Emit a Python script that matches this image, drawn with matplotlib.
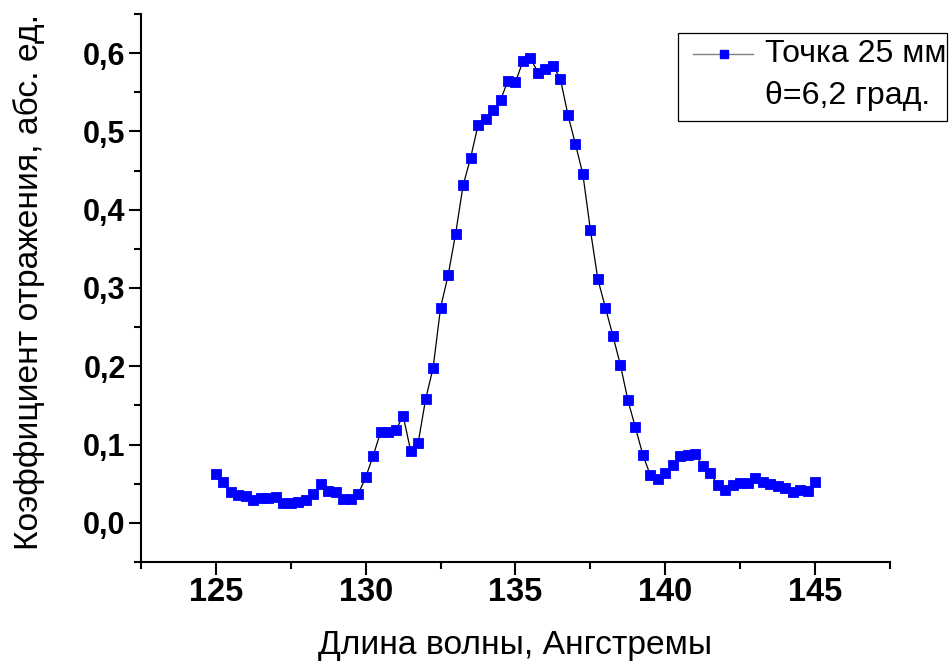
import matplotlib
matplotlib.use("Agg")
import matplotlib.pyplot as plt
from matplotlib.lines import Line2D
from matplotlib.patches import Rectangle
from matplotlib.ticker import MultipleLocator, FuncFormatter

# Wavelength grid, Angstrom
wavelength = [
    125.00, 125.25, 125.50, 125.75, 126.00, 126.25, 126.50, 126.75,
    127.00, 127.25, 127.50, 127.75, 128.00, 128.25, 128.50, 128.75,
    129.00, 129.25, 129.50, 129.75, 130.00, 130.25, 130.50, 130.75,
    131.00, 131.25, 131.50, 131.75, 132.00, 132.25, 132.50, 132.75,
    133.00, 133.25, 133.50, 133.75, 134.00, 134.25, 134.50, 134.75,
    135.00, 135.25, 135.50, 135.75, 136.00, 136.25, 136.50, 136.75,
    137.00, 137.25, 137.50, 137.75, 138.00, 138.25, 138.50, 138.75,
    139.00, 139.25, 139.50, 139.75, 140.00, 140.25, 140.50, 140.75,
    141.00, 141.25, 141.50, 141.75, 142.00, 142.25, 142.50, 142.75,
    143.00, 143.25, 143.50, 143.75, 144.00, 144.25, 144.50, 144.75,
    145.00,
]

# Reflection coefficient, absolute units
reflectance = [
    0.062, 0.052, 0.040, 0.035, 0.034, 0.029, 0.032, 0.032,
    0.033, 0.026, 0.026, 0.027, 0.029, 0.037, 0.049, 0.041,
    0.039, 0.031, 0.030, 0.037, 0.058, 0.086, 0.116, 0.116,
    0.118, 0.137, 0.092, 0.102, 0.158, 0.198, 0.275, 0.316,
    0.369, 0.431, 0.466, 0.508, 0.516, 0.528, 0.540, 0.565,
    0.563, 0.590, 0.594, 0.575, 0.580, 0.584, 0.567, 0.521,
    0.484, 0.445, 0.374, 0.311, 0.275, 0.239, 0.202, 0.157,
    0.122, 0.087, 0.061, 0.056, 0.064, 0.074, 0.086, 0.087,
    0.088, 0.072, 0.064, 0.048, 0.042, 0.048, 0.051, 0.051,
    0.057, 0.052, 0.050, 0.047, 0.045, 0.040, 0.042, 0.041,
    0.052,
]

series_label = "Точка 25 мм"
angle_label = "θ=6,2 град."
x_title = "Длина волны, Ангстремы"
y_title = "Коэффициент отражения, абс. ед."

FONT = ["Liberation Sans", "DejaVu Sans"]
plt.rcParams["font.family"] = FONT

W, H = 949, 663
fig = plt.figure(figsize=(W / 100, H / 100), dpi=100)


def fx(px):
    return px / W


def fy(py):
    return 1 - py / H


ax = fig.add_axes([fx(141), fy(562), fx(890) - fx(141), fy(14) - fy(562)])

ax.plot(wavelength, reflectance, color="black", lw=0.9,
        marker="s", ms=7.5, mfc="#0000ff", mec="#0000ff", mew=0.6)

ax.set_xlim(122.5, 147.5)
ax.set_ylim(-0.05, 0.65)
ax.xaxis.set_major_locator(MultipleLocator(5))
ax.xaxis.set_minor_locator(MultipleLocator(2.5))
ax.yaxis.set_major_locator(MultipleLocator(0.1))
ax.yaxis.set_minor_locator(MultipleLocator(0.05))
ax.yaxis.set_major_formatter(
    FuncFormatter(lambda v, p: f"{abs(v) if abs(v) < 1e-9 else v:.1f}".replace(".", ",")))
ax.xaxis.set_major_formatter(FuncFormatter(lambda v, p: f"{v:.0f}"))

for s in ("top", "right"):
    ax.spines[s].set_visible(False)
for s in ("left", "bottom"):
    ax.spines[s].set_linewidth(1.5)

ax.tick_params(which="major", direction="out", length=9, width=1.5)
ax.tick_params(which="minor", direction="out", length=4.8, width=1.5)
ax.tick_params(axis="x", which="major", pad=1.5)
ax.tick_params(axis="y", which="major", pad=2)

for lab in ax.get_yticklabels():
    lab.set_fontweight("bold")
    lab.set_fontsize(22)
for lab in ax.get_xticklabels():
    lab.set_fontweight("bold")
    lab.set_fontsize(23.5)

ax.set_xlabel(x_title, fontsize=24.2)
ax.xaxis.set_label_coords(0.4993, (562 - 630) / 548)
ax.set_ylabel(y_title, fontsize=24.2)
ax.yaxis.set_label_coords((45 - 141) / 749, (562 - 282) / 548)

# Legend box with the series sample and its caption
fig.add_artist(Rectangle((fx(678), fy(121)), fx(947) - fx(678), fy(33) - fy(121),
                         transform=fig.transFigure, fill=False,
                         edgecolor="black", lw=0.9))
fig.add_artist(Line2D([fx(693), fx(753)], [fy(54), fy(54)],
                      transform=fig.transFigure, color="#808080", lw=1.0))
fig.add_artist(Line2D([fx(724)], [fy(54)], transform=fig.transFigure,
                      linestyle="none", marker="s", ms=6,
                      mfc="#0000ff", mec="#0000ff"))
fig.text(fx(765), fy(62), series_label, fontsize=23.1, va="baseline", ha="left")
fig.text(fx(765), fy(104), angle_label, fontsize=23.1, va="baseline", ha="left")

fig.savefig("out.png", dpi=100)
